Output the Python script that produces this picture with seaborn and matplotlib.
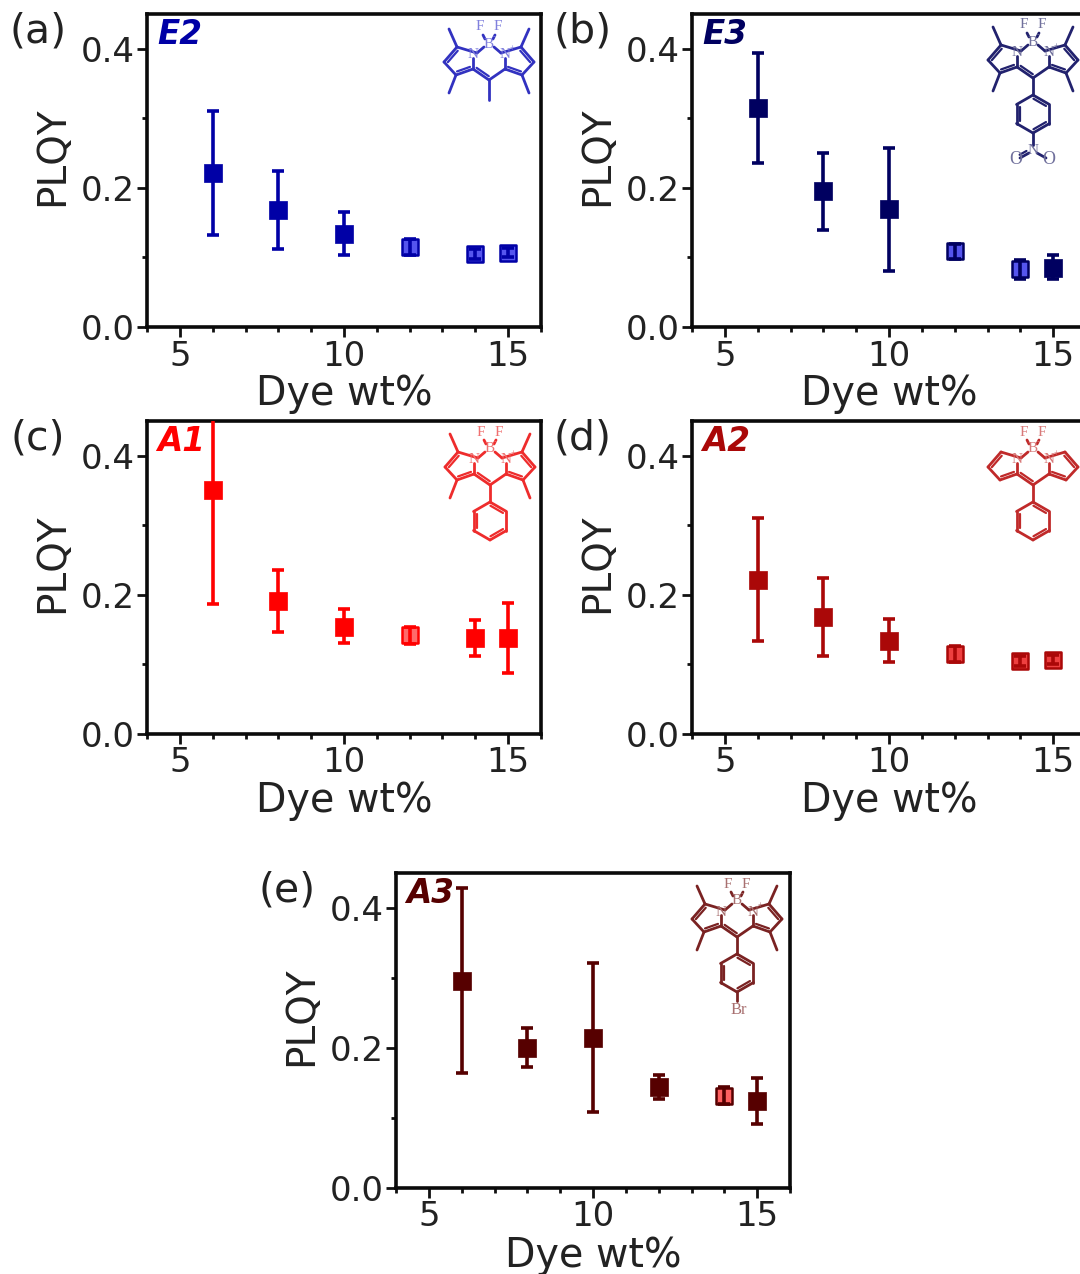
"""
PLQY vs dye loading, five BODIPY dyes
"""

import numpy as np
import pandas as pd
import matplotlib
matplotlib.use("Agg")
import matplotlib.pyplot as plt
import seaborn as sns
from matplotlib.lines import Line2D
from matplotlib.ticker import MultipleLocator
from matplotlib.transforms import Affine2D

sns.set_theme(style="ticks")
plt.rcParams["font.family"] = ["DejaVu Sans"]

W, H = 1080, 1274
wt = [6, 8, 10, 12, 14, 15]

e2_y = [0.221, 0.168, 0.134, 0.115, 0.105, 0.107]
e2_lo = [0.132, 0.112, 0.103, 0.104, 0.098, 0.100]
e2_hi = [0.310, 0.225, 0.165, 0.126, 0.112, 0.114]

e3_y = [0.315, 0.195, 0.169, 0.109, 0.083, 0.085]
e3_lo = [0.236, 0.140, 0.081, 0.098, 0.069, 0.069]
e3_hi = [0.394, 0.250, 0.258, 0.120, 0.097, 0.103]

a1_y = [0.351, 0.191, 0.154, 0.142, 0.138, 0.138]
a1_lo = [0.187, 0.146, 0.131, 0.130, 0.112, 0.088]
a1_hi = [0.515, 0.236, 0.180, 0.154, 0.164, 0.188]

a2_y = [0.222, 0.168, 0.134, 0.115, 0.105, 0.107]
a2_lo = [0.133, 0.112, 0.103, 0.104, 0.098, 0.100]
a2_hi = [0.311, 0.225, 0.165, 0.126, 0.112, 0.114]

a3_y = [0.296, 0.200, 0.215, 0.144, 0.132, 0.124]
a3_lo = [0.164, 0.173, 0.109, 0.127, 0.120, 0.091]
a3_hi = [0.428, 0.228, 0.322, 0.161, 0.144, 0.157]

# which points show the light marker face
e2_light = [0, 0, 0, 1, 1, 1]
e3_light = [0, 0, 0, 1, 1, 0]
a1_light = [0, 0, 0, 1, 0, 0]
a2_light = [0, 0, 0, 1, 1, 1]
a3_light = [0, 0, 0, 0, 1, 0]

panels = [
    ("(a)", "E2", e2_y, e2_lo, e2_hi, e2_light, "#0000a6", "#5555ee", "#3232c0", "#8080dd", 147, 327, 313, (489, 44), "methyl", True),
    ("(b)", "E3", e3_y, e3_lo, e3_hi, e3_light, "#000060", "#5555ee", "#22226e", "#70709c", 692, 327, 313, (1033, 42), "nitro", True),
    ("(c)", "A1", a1_y, a1_lo, a1_hi, a1_light, "#ff0000", "#ff6a6a", "#ee2c2c", "#f07070", 147, 734, 313, (490, 449), "phenyl", True),
    ("(d)", "A2", a2_y, a2_lo, a2_hi, a2_light, "#aa0808", "#ee4040", "#c02a2a", "#d87a7a", 692, 734, 313, (1033, 449), "phenyl", False),
    ("(e)", "A3", a3_y, a3_lo, a3_hi, a3_light, "#560000", "#ff6060", "#7a2222", "#a87070", 396, 1188, 315, (737, 901), "bromo", True),
]


def bond(tr, p, q, color, double=None):
    fig.add_artist(Line2D([p[0], q[0]], [p[1], q[1]], color=color, lw=2.0, transform=tr))
    if double is not None:
        # short parallel line on the inner side of the ring
        p, q = np.array(p, float), np.array(q, float)
        mid = (p + q) / 2
        n = np.array([q[1] - p[1], p[0] - q[0]], float)
        n = n / np.hypot(*n)
        if np.dot(n, np.array(double) - mid) < 0:
            n = -n
        a = p + (q - p) * 0.12 + n * 3
        b = q - (q - p) * 0.12 + n * 3
        fig.add_artist(Line2D([a[0], b[0]], [a[1], b[1]], color=color, lw=1.6, transform=tr))


def atom(cx, cy, bx, by, s, color, size=11):
    fig.text((bx + cx) / W, 1 - (by + cy) / H, s, color=color, fontsize=size, family="Liberation Serif",
             ha="center", va="center")


def molecule(b, kind, methyls, color, tcolor):
    bx, by = b
    tr = Affine2D().scale(1, -1).translate(bx, H - by)
    for s in [-1, 1]:
        n = (s * 12, 9)
        c1, c2, c3, c4 = (s * 32, 3), (s * 45, 18), (s * 33, 31), (s * 16, 25)
        cen = (s * 30, 17)
        bond(tr, (s * 5, 3), n, color)
        bond(tr, n, c1, color)
        bond(tr, c1, c2, color, cen)
        bond(tr, c2, c3, color)
        bond(tr, c3, c4, color, cen)
        bond(tr, c4, (s * 16, 14), color)
        bond(tr, c4, (0, 36), color, (0, 15) if s < 0 else None)
        if methyls:
            bond(tr, c1, (s * 40, -15), color)
            bond(tr, c3, (s * 40, 49), color)
        bond(tr, (s * 4, -5), (s * 6, -9), color)
        atom(s * 16, 11, bx, by, "N", tcolor)
        atom(s * 9, -17, bx, by, "F", tcolor)
    atom(0, 0, bx, by, "B", tcolor)
    atom(23, 5, bx, by, "+", tcolor, 7)
    atom(5, -7, bx, by, "-", tcolor, 7)
    if kind == "methyl":
        bond(tr, (0, 36), (0, 56), color)
        return
    # aryl ring under the meso carbon
    ang = np.deg2rad(np.arange(-90, 270, 60))
    ring = [(19 * np.cos(t), 72 + 19 * np.sin(t)) for t in ang]
    bond(tr, (0, 36), ring[0], color)
    for i in range(6):
        bond(tr, ring[i], ring[(i + 1) % 6], color, (0, 72) if i % 2 == 0 else None)
    if kind == "nitro":
        bond(tr, ring[3], (0, 103), color)
        bond(tr, (-4, 111), (-13, 116), color, (0, 90))
        bond(tr, (4, 111), (13, 116), color)
        atom(0, 108, bx, by, "N", tcolor)
        atom(-17, 118, bx, by, "O", tcolor, 13)
        atom(16, 118, bx, by, "O", tcolor, 13)
    if kind == "bromo":
        bond(tr, ring[3], (0, 100), color)
        atom(2, 109, bx, by, "Br", tcolor, 12)


fig = plt.figure(figsize=(W / 100, H / 100), dpi=100)

for letter, name, y, lo, hi, light, dark, face, mol, mol_txt, left, bottom, height, bpos, kind, methyls in panels:
    ax = fig.add_axes([left / W, 1 - bottom / H, 394 / W, height / H])
    df = pd.DataFrame({"wt": wt, "plqy": y, "lo": lo, "hi": hi, "light": light})
    sns.scatterplot(data=df[df["light"] == 0], x="wt", y="plqy", marker="s", s=170, color=dark,
                    edgecolor=dark, linewidth=0.5, zorder=3, ax=ax, clip_on=False)
    sns.scatterplot(data=df[df["light"] == 1], x="wt", y="plqy", marker="s", s=130, color=face,
                    edgecolor=dark, linewidth=1.8, zorder=3, ax=ax, clip_on=False)
    ax.errorbar(df["wt"], df["plqy"], yerr=[df["plqy"] - df["lo"], df["hi"] - df["plqy"]], fmt="none",
                ecolor=dark, elinewidth=2.6, capsize=4.6, capthick=2.6, zorder=4)

    ax.set_xlim(4, 16)
    ax.set_ylim(0, 0.45)
    ax.set_xticks([5, 10, 15])
    ax.set_yticks([0.0, 0.2, 0.4])
    ax.xaxis.set_minor_locator(MultipleLocator(1))
    ax.yaxis.set_minor_locator(MultipleLocator(0.1))
    ax.tick_params(which="major", length=7, width=2, labelsize=24.5, pad=2, color="#111111", labelcolor="#222222")
    ax.tick_params(which="minor", length=3.5, width=2, color="#111111")
    for sp in ax.spines.values():
        sp.set_linewidth(2.6)
        sp.set_color("#0a0a0a")

    ax.set_xlabel("Dye wt%", fontsize=28.5, color="#222222", va="center")
    ax.set_ylabel("PLQY", fontsize=28, color="#222222", va="center")
    ax.xaxis.set_label_coords(0.5, -0.215)
    ax.yaxis.set_label_coords(-0.241, 0.545)

    ax.text(-0.277, 0.945, letter, transform=ax.transAxes, fontsize=29.5, color="#222222", ha="center", va="center")
    ax.text(0.025, 0.936, name, transform=ax.transAxes, fontsize=23.5, color=dark, fontweight="bold",
            fontstyle="italic", ha="left", va="center")
    molecule(bpos, kind, methyls, mol, mol_txt)

fig.savefig("out.png", dpi=100)
